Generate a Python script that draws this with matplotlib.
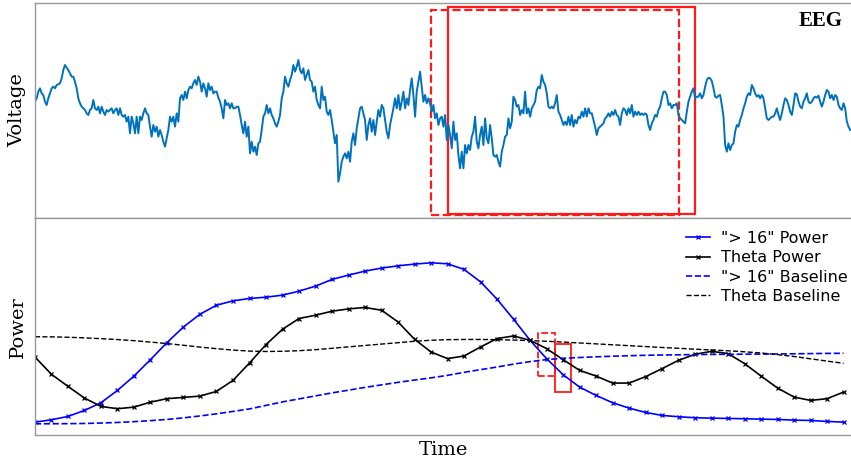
import numpy as np
import matplotlib.pyplot as plt
from matplotlib.patches import Rectangle

# raw EEG trace (arbitrary voltage units)
eeg_voltage = [
    25, 35, 55, 65, 50, 45, 25, 15, 35, 50, 65, 70, 65, 75, 77, 80, 95, 120, 135, 127,
    120, 110, 100, 100, 85, 65, 35, 20, 10, 5, 0, -10, -15, 0, 5, 30, 5, 0, 10, -10,
    10, -5, -15, 0, -5, 0, 5, -10, 0, 5, -15, 5, -15, -20, -15, -35, -20, -70, -20, -40,
    -70,
    -20, -70, -20, -30, -10, 5, -10, -15, -50, -80, -45, -65, -50, -80, -60, -75, -95, -110, -85, -60,
    -20, -35, -20, -50, -10, -35, 35, 45, 30, 55, 35, 60, 70, 65, 80, 90, 75, 100, 85, 55,
    80, 65, 40, 80, 60, 70, 50, 55, 55, 37, 25, 5, -25, 30, 15, 20, 5, 20, 5, 5,
    10,
    10, -15, -45, -70, -35, -80, -50, -130, -95, -125, -110, -135, -100, -95, -60, -20, -10, 15, -10, 5,
    -15, -25, -40, -50, -35, -15, 35, 55, 100, 80, 70, 90, 105, 135, 115, 130, 150, 120, 110, 125,
    90, 105, 120, 90, 85, 55, 70, 30, 15, 5, 70, 30, 40, -5, -15, 0, -30, -65, -100, -75,
    -215,
    -190, -155, -140, -130, -145, -125, -155, -95, -70, -105, -55, -25, 5, 10, -10, -30, -90, -45, -25, -65,
    -30, -75, -35, 0, -20, 15, 5, -30, -65, -85, -45, -20, 5, 35, 5, 45, 0, 25, 55, 5,
    35, 15, 60, 95, 45, -20, 55, 85, 115, 70, 25, 45, 20, 35, 20, -5, 15, -25, -10, -45,
    -25,
    -20, -50, -15, -90, -45, -75, -115, -35, -90, -70, -135, -175, -125, -175, -105, -130, -105, -120, -80, -65,
    -20, -95, -115, -75, -50, -105, -25, -85, -100, -45, -85, -135, -140, -135, -155, -170, -125, -105, -80, -75,
    -25, -55, -35, 40, 30, 10, 15, -15, 0, -10, 55, -10, 5, -20, 5, 15, 25, 60, 70, 65,
    105,
    85, 75, 50, 10, 5, 10, 5, 20, 45, -5, -15, -30, -45, -35, -45, -20, -45, -15, -50, -30,
    -40, -20, -25, -5, -20, 5, -20, 5, -10, -10, -30, -50, -75, -55, -50, -45, -40, -25, -20, -10,
    -20, -5, -15, 0, -15, -20, -45, -10, 5, 0, -15, 5, -10, 15, -20, -5, -15, -5, -15, -10,
    -15,
    -10, -15, -45, -60, -40, -30, -15, -20, 0, 10, 35, 55, 55, 45, 15, 20, 5, 15, 15, 20,
    -15, -25, -30, -35, -40, -5, 25, 40, 55, 65, 35, 40, 40, 50, 35, 45, 70, 90, 97, 95,
    87, 65, 40, 37, 43, 45, 15, -20, -105, -125, -100, -120, -105, -100, -65, -45, -50, -30, -15, 5,
    20,
    40, 50, 45, 75, 65, 50, 40, 45, 35, 45, 35, 5, -25, -30, -25, -20, -20, -10, 5, -15,
    -30, -10, 15, 35, 30, 15, -5, -15, 15, 50, 47, 25, 10, 5, 25, 35, 50, 25, 20, 25,
    35, 40, 37, 43, 25, 10, 25, 45, 60, 55, 35, 45, 30, 45, 40, 15, 5, 0, 20, 5,
    -35, -50, -60,
]

# band power per window (50 windows)
power_high = [
    13.3, 15.7, 19, 25, 32.7, 45, 59.3, 75.7, 92.7, 108.3,
    121, 130, 134.3, 136.7, 138, 140, 144, 149, 155.7, 160,
    164, 167, 169.3, 171, 172.3, 171.3, 165.7, 153.3, 136, 116,
    95, 76.7, 60.7, 48.3, 40, 32.7, 27.3, 23, 20, 18.7,
    17.7, 17.3, 17, 16.7, 16.3, 16, 15.3, 15, 14, 13.3,
]
power_theta = [
    78.3, 61, 49, 37.3, 29, 26.7, 28.3, 33.3, 36.7, 38,
    39.3, 44, 55, 72.3, 90.7, 106, 116.7, 120, 124, 126.3,
    127.7, 125, 113.3, 96, 83.3, 76.7, 79.3, 88.3, 96.7, 99.3,
    95, 86.7, 75.7, 65, 59.3, 52.3, 52.3, 58.7, 66.7, 75,
    81, 84, 81.7, 71.7, 59.3, 47.3, 38.3, 35, 36.7, 43.3,
]
baseline_high = [
    11.7, 11.7, 11.8, 12, 12.4, 13, 13.8, 14.8, 16, 17.6,
    19.5, 21.6, 24, 26.5, 30, 33.5, 36.5, 39.5, 42.5, 45.2,
    48, 50.5, 53, 55.3, 57.5, 60, 63, 65.7, 68.3, 71.2,
    73.7, 75.7, 77, 77.8, 78.5, 79.1, 79.6, 80, 80.3, 80.5,
    80.7, 80.9, 81, 81.1, 81.2, 81.3, 81.5, 81.7, 81.9, 82,
]
baseline_theta = [
    98.5, 98.4, 98, 97.4, 96.6, 95.7, 94.6, 93.2, 91.7, 90,
    88.2, 86.6, 85.2, 84.2, 83.8, 84, 84.6, 85.6, 87, 88.4,
    89.8, 91.2, 92.6, 94, 95, 95.6, 95.8, 95.8, 95.6, 95.2,
    94.7, 94, 93.2, 92.3, 91.4, 90.5, 89.6, 88.7, 87.8, 87,
    86.1, 85.3, 84.5, 83.5, 82.3, 80.7, 78.8, 76.5, 74.2, 72,
]

legend_labels = ['"> 16" Power', 'Theta Power', '"> 16" Baseline', 'Theta Baseline']

# highlighted windows: (start, end, y-low, y-high, linestyle)
eeg_windows = [(24, 39, -315, 300, "--"), (25, 40, -312, 309, "-")]
power_windows = [(31, "--"), (32, "-")]

n_win = len(power_high)
t_win = np.arange(n_win)
t_eeg = np.linspace(0, 49.4, len(eeg_voltage))

fig = plt.figure(figsize=(8.51, 4.67), dpi=100)
ax1 = fig.add_axes([0.0411, 0.5332, 0.9589, 0.4604])
ax2 = fig.add_axes([0.0411, 0.0675, 0.9589, 0.4657])

ax1.plot(t_eeg, eeg_voltage, color="#0072bd", lw=1.4)
for x0, x1, y0, y1, ls in eeg_windows:
    ax1.add_patch(Rectangle((x0, y0), x1 - x0, y1 - y0, fill=False,
                            edgecolor="#ff1a1a", lw=1.6, ls=ls))
ax1.text(0.99, 0.965, "EEG", transform=ax1.transAxes, ha="right", va="top",
         fontsize=15, fontweight="bold", family="Liberation Serif")
ax1.set_ylim(-324, 321)

ax2.plot(t_win, power_high, color="blue", lw=1.2, marker="x", ms=3.2, mew=0.9,
         label=legend_labels[0])
ax2.plot(t_win, power_theta, color="black", lw=1.2, marker="x", ms=3.2, mew=0.9,
         label=legend_labels[1])
ax2.plot(t_win, baseline_high, color="blue", lw=1.2, ls="--", label=legend_labels[2])
ax2.plot(t_win, baseline_theta, color="black", lw=1.0, ls="--", label=legend_labels[3])
for i, ls in power_windows:
    lo = min(power_high[i], power_theta[i]) - 17
    hi = max(power_high[i], power_theta[i]) + 16
    ax2.add_patch(Rectangle((i - 0.5, lo), 1, hi - lo, fill=False,
                            edgecolor="#ff1a1a", lw=1.3, ls=ls))
ax2.set_ylim(0, 217)
ax2.legend(loc="upper right", bbox_to_anchor=(1.0075, 0.986), frameon=False,
           fontsize=11.5, handlelength=1.5, handletextpad=0.7, labelspacing=0.28,
           borderaxespad=0.2)

for ax in (ax1, ax2):
    ax.set_xlim(0, 49.45)
    ax.set_xticks([])
    ax.set_yticks([])
    ax.spines["right"].set_visible(False)
    for s in ("left", "top", "bottom"):
        ax.spines[s].set_color("#999999")
        ax.spines[s].set_linewidth(1.0)

ax1.set_ylabel("Voltage", family="DejaVu Serif", fontsize=14, labelpad=6)
ax2.set_ylabel("Power", family="DejaVu Serif", fontsize=14, labelpad=6)
ax2.set_xlabel("Time", family="DejaVu Serif", fontsize=14, labelpad=4)

fig.savefig("out.png", dpi=100)
